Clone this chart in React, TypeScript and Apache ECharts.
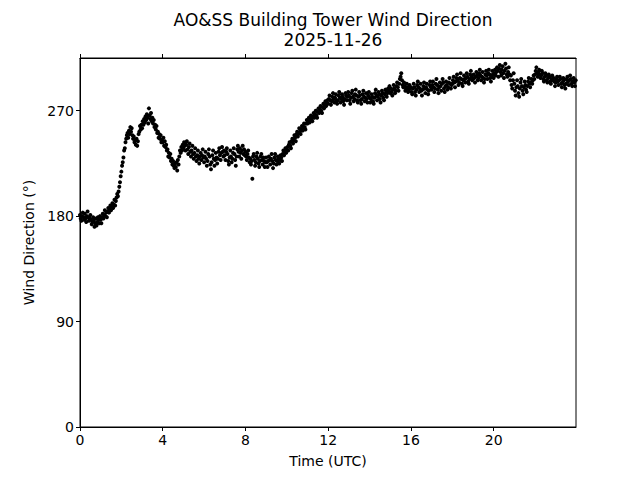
import React, { useEffect, useRef } from "react";
import * as echarts from "echarts";

// Wind direction (deg), one sample every 2 minutes, one array per UTC hour
const hour00 = [181,178,176,180,183,179,177,182,178,175,180,184,179,176,178,181,177,173,175,179,176,171,174,178,172,175,179,177,174,180];
const hour01 = [177,174,179,182,178,181,185,180,183,179,184,187,183,186,189,185,188,191,187,190,194,189,193,196,199,197,201,205,209,214];
const hour02 = [218,223,226,230,236,238,243,246,249,251,247,253,250,256,252,255,249,246,248,243,245,241,246,240,244,250,252,257,254,258];
const hour03 = [255,261,258,263,260,265,262,267,264,259,272,266,263,268,261,264,259,262,256,258,254,257,251,252,247,250,246,249,243,245];
const hour04 = [243,247,240,244,239,241,236,237,231,234,230,233,227,229,224,227,223,221,225,222,226,219,228,224,231,236,234,239,236,241];
const hour05 = [238,243,240,236,241,244,237,233,239,242,235,231,236,240,233,229,234,238,231,227,232,236,229,225,231,234,228,232,237,230];
const hour06 = [226,231,235,229,223,227,233,237,231,224,220,226,232,236,229,223,228,234,230,225,229,235,238,232,228,234,239,235,231,236];
const hour07 = [232,228,235,238,233,227,224,230,236,231,226,229,234,238,233,228,223,231,237,240,235,231,238,234,229,236,240,233,237,232];
const hour08 = [235,231,228,233,236,230,226,229,224,227,212,231,233,228,223,226,231,234,229,225,222,227,231,233,228,224,230,227,222,226];
const hour09 = [230,226,222,227,231,228,224,229,233,227,221,225,230,233,228,224,227,231,229,225,228,232,230,227,233,236,232,235,238,234];
const hour10 = [237,239,236,241,243,240,238,244,246,242,245,249,247,244,250,252,248,251,255,252,250,254,257,253,256,259,256,254,259,262];
const hour11 = [259,262,264,260,263,266,263,261,265,268,264,267,270,266,264,269,272,268,271,274,270,268,273,276,272,275,278,274,276,279];
const hour12 = [276,280,283,279,275,278,282,285,280,277,281,284,279,276,279,283,286,281,277,280,284,282,278,275,280,285,283,279,282,286];
const hour13 = [283,279,276,281,285,287,282,278,280,284,288,283,279,277,282,286,283,279,276,280,284,287,282,278,281,285,280,277,283,286];
const hour14 = [281,277,280,284,282,278,276,281,285,288,283,279,282,286,284,280,277,283,287,285,281,279,284,288,286,282,285,289,287,291];
const hour15 = [285,289,286,283,288,292,289,285,287,291,294,290,287,293,297,299,302,296,292,290,294,291,287,289,293,290,286,288,292,289];
const hour16 = [290,286,284,289,293,290,286,283,288,292,295,290,286,289,293,287,283,288,291,294,289,285,290,293,288,284,287,292,295,290];
const hour17 = [288,292,295,290,286,289,293,297,292,288,285,290,294,291,287,293,297,294,289,286,291,295,292,288,290,294,298,293,289,292];
const hour18 = [293,296,299,294,290,295,298,301,296,292,294,298,302,297,293,291,296,300,297,294,298,302,299,295,293,297,301,304,299,296];
const hour19 = [297,301,298,294,299,303,300,296,298,302,305,300,296,299,303,298,294,297,301,304,300,297,302,305,301,298,295,300,304,301];
const hour20 = [298,302,305,300,303,307,304,299,306,309,303,300,305,308,302,298,304,310,306,301,299,303,307,301,296,300,292,289,296,302];
const hour21 = [293,287,283,290,296,291,285,282,289,294,297,291,287,284,290,295,292,288,286,291,295,298,293,290,294,297,293,296,300,297];
const hour22 = [301,304,307,302,299,303,305,301,298,300,304,302,297,295,299,302,300,296,294,298,301,299,295,293,297,300,296,298,295,291];
const hour23 = [294,297,299,295,292,296,299,297,293,290,294,298,296,292,289,293,297,299,295,292,296,300,297,293,291,295,298,294,291,296];

const hourlyRows = [hour00, hour01, hour02, hour03, hour04, hour05, hour06, hour07, hour08, hour09, hour10, hour11,
  hour12, hour13, hour14, hour15, hour16, hour17, hour18, hour19, hour20, hour21, hour22, hour23];
const sampleMinutes = 2;

const xTicks = [0, 4, 8, 12, 16, 20];
const yTicks = [0, 90, 180, 270];
const xMax = 23.983;
const yMax = 315;

const titleText = "AO&SS Building Tower Wind Direction\n2025-11-26";
const xLabel = "Time (UTC)";
const yLabel = "Wind Direction (°)";

const FONT = "DejaVu Sans";

export default function App() {
  const ref = useRef<HTMLDivElement>(null);
  useEffect(() => {
    if (!ref.current) return;
    const chart = echarts.init(ref.current, undefined, { renderer: "svg" });
    const points: number[][] = [];
    hourlyRows.forEach((row, h) => {
      row.forEach((v, i) => {
        points.push([h + (i * sampleMinutes) / 60, v]);
      });
    });
    const axisLineStyle = { color: "#000", width: 1 };
    chart.setOption({
      animation: false,
      backgroundColor: "#fff",
      title: {
        text: titleText,
        left: 328,
        top: 5,
        textAlign: "center",
        textStyle: { fontFamily: FONT, fontSize: 17, fontWeight: "normal", color: "#000", lineHeight: 20 },
      },
      grid: { left: 80, right: 64, top: 58, bottom: 53, show: true, borderColor: "#000", borderWidth: 1, backgroundColor: "transparent" },
      xAxis: [
        {
          type: "value",
          min: 0,
          max: xMax,
          position: "bottom",
          name: xLabel,
          nameLocation: "middle",
          nameGap: 27,
          nameTextStyle: { fontFamily: FONT, fontSize: 14, color: "#000" },
          axisLine: { show: true, lineStyle: axisLineStyle },
          axisTick: { show: true, length: 4, lineStyle: axisLineStyle, customValues: xTicks },
          axisLabel: { fontFamily: FONT, fontSize: 14, color: "#000", margin: 6, customValues: xTicks },
          splitLine: { show: false },
        },
        {
          type: "value",
          min: 0,
          max: xMax,
          position: "top",
          axisLine: { show: true, lineStyle: axisLineStyle },
          axisTick: { show: true, length: 4, lineStyle: axisLineStyle, customValues: xTicks },
          axisLabel: { show: false },
          splitLine: { show: false },
        },
      ],
      yAxis: {
        type: "value",
        min: 0,
        max: yMax,
        name: yLabel,
        nameLocation: "middle",
        nameGap: 43,
        nameTextStyle: { fontFamily: FONT, fontSize: 14, color: "#000" },
        axisLine: { show: true, lineStyle: axisLineStyle },
        axisTick: { show: true, length: 4, lineStyle: axisLineStyle, customValues: yTicks },
        axisLabel: { fontFamily: FONT, fontSize: 14, color: "#000", margin: 6, customValues: yTicks },
        splitLine: { show: false },
      },
      series: [
        {
          type: "scatter",
          xAxisIndex: 0,
          data: points,
          symbol: "circle",
          symbolSize: 4,
          itemStyle: { color: "#000", opacity: 1 },
          silent: true,
        },
      ],
    });
    return () => chart.dispose();
  }, []);
  return <div ref={ref} style={{ width: 640, height: 480, position: "absolute", left: 0, top: 0 }} />;
}
